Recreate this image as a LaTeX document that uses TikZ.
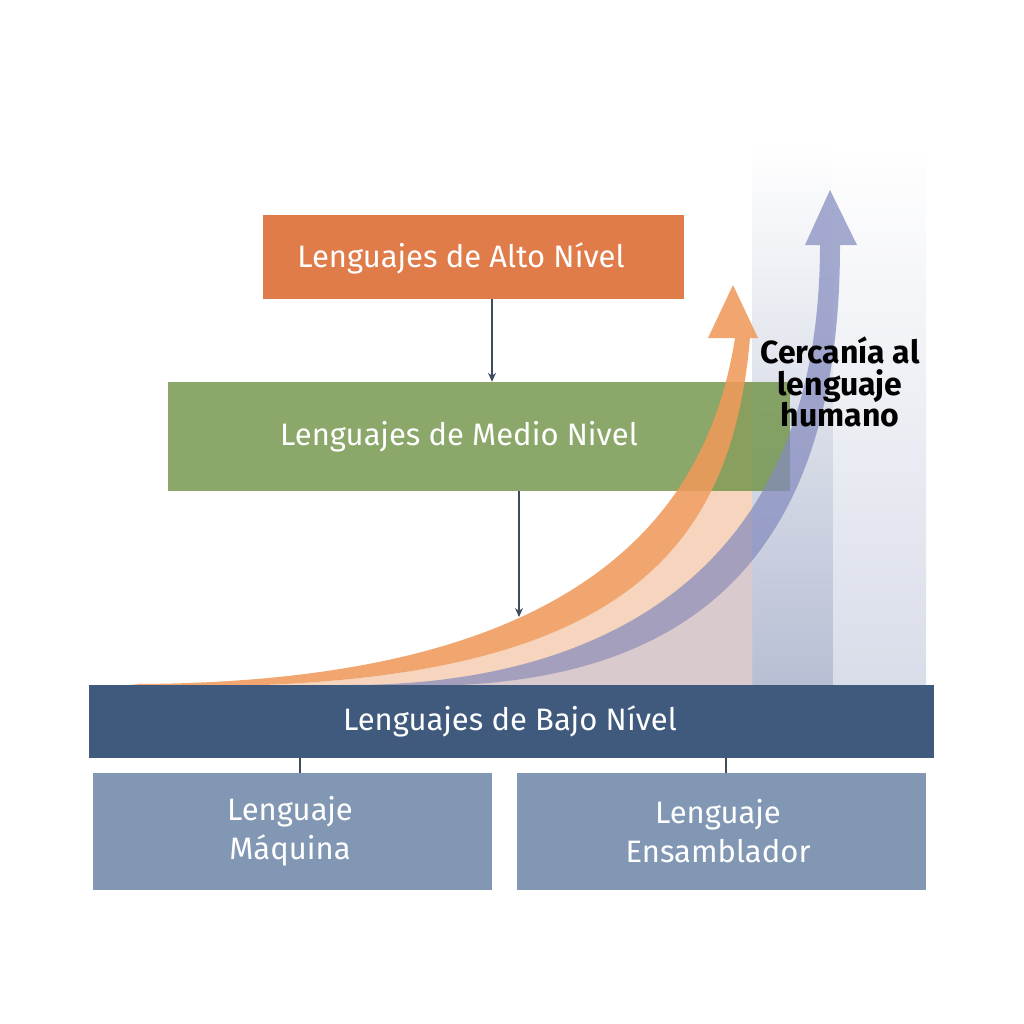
\documentclass[tikz,border=0pt]{standalone}
\usepackage{fontspec}
\setmainfont{Fira Sans}
\usetikzlibrary{arrows.meta}
\definecolor{altoc}{HTML}{E07C49}
\definecolor{medioc}{HTML}{6E9245}
\definecolor{bajoc}{HTML}{3F5A7C}
\definecolor{subc}{HTML}{8197B4}
\definecolor{connc}{HTML}{3E4C5E}
\definecolor{orangearr}{HTML}{EF9A5A}
\definecolor{bluearr}{HTML}{848BBE}
\definecolor{peachc}{HTML}{F6D4BD}
\definecolor{mauvec}{HTML}{D8CACD}
\definecolor{coldark}{HTML}{B7BFD4}
\definecolor{collight}{HTML}{D9DDE9}
\tikzset{
  box/.style={rectangle, inner sep=0pt, anchor=center},
  lbl/.style={text=white, font=\fontsize{31}{39}\selectfont, align=center, inner sep=0pt},
  conn/.style={draw=connc, line width=1.3pt},
  connarrow/.style={conn, -{Stealth[length=9pt,width=8pt]}},
}
\begin{document}
\begin{tikzpicture}[x=1pt,y=-1pt]
\useasboundingbox (0,0) rectangle (1024,1024);
\fill[white] (0,0) rectangle (1024,1024);
% right column
\shade[top color=white, bottom color=coldark] (752,145) rectangle (833,685);
\shade[top color=white, bottom color=collight] (833,145) rectangle (926,685);
% fills under curves
\begin{scope}
  \clip (0,382) rectangle (752,686);
  \fill[peachc] (750,338) .. controls (730,570) and (600,694) .. (150,686) -- (752,686) -- (752,338) -- cycle;
  \fill[mauvec] (840,245) .. controls (840,560) and (690,686) .. (420,686) -- (840,686) -- cycle;
\end{scope}
% boxes
\node[box, fill=altoc, minimum width=421pt, minimum height=84pt] (alto) at (473.5,257) {};
\node[box, fill=medioc, fill opacity=0.8, minimum width=622pt, minimum height=109pt] (medio) at (479,436.5) {};
% rising arrows
\fill[orangearr, opacity=0.88] (130,684) .. controls (560,684) and (705,530) .. (735,338)
  -- (708,338) -- (733,285) -- (758,338) -- (750,338)
  .. controls (730,570) and (600,694) .. (150,686) -- cycle;
\fill[bluearr, opacity=0.72] (350,685) .. controls (600,685) and (820,575) .. (820,245)
  -- (805,245) -- (830,190) -- (857,245) -- (840,245)
  .. controls (840,560) and (690,686) .. (420,686) -- cycle;
% labels
\node[lbl] (altotxt) at (461,258) {Lenguajes de Alto Nível};
\node[lbl] (mediotxt) at (459,437) {Lenguajes de Medio Nivel};
% bottom boxes
\node[box, fill=bajoc, minimum width=845pt, minimum height=73pt] (bajo) at (511.5,721.5) {};
\node[lbl] (bajotxt) at (510,721) {Lenguajes de Bajo Nível};
\node[box, fill=subc, minimum width=399pt, minimum height=117pt] (maq) at (292.5,831.5) {};
\node[lbl] (maqtxt) at (290,831) {Lenguaje\\Máquina};
\node[box, fill=subc, minimum width=409pt, minimum height=117pt] (ens) at (721.5,831.5) {};
\node[lbl] (enstxt) at (718,831) {Lenguaje\\Ensamblador};
% connectors
\coordinate (hit) at (519,617);
\draw[connarrow] (492,0 |- alto.south) -- (492,0 |- medio.north);
\draw[connarrow] (519,0 |- medio.south) -- (hit);
\draw[conn] (300,0 |- bajo.south) -- (300,0 |- maq.north);
\draw[conn] (726,0 |- bajo.south) -- (726,0 |- ens.north);
% side label
\node[align=center, inner sep=0pt, font=\bfseries\fontsize{32}{31.5}\selectfont] (cerca) at (840,382) {Cercanía al\\lenguaje\\humano};
\end{tikzpicture}
\end{document}
